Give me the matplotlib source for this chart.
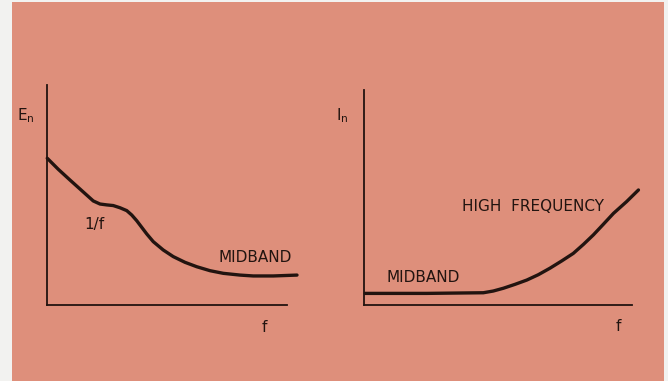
import matplotlib.pyplot as plt
from matplotlib.patches import Rectangle

# Noise curves (arbitrary units, 0-100 on both axes)
en_freq = [0.1, 4.5, 9.2, 13.9, 18.5, 21.2, 23.9, 26.5, 29.2, 31.9, 33.9, 35.9, 37.9,
           39.9, 42.5, 46.5, 50.5, 55.2, 59.9, 65.2, 70.5, 77.2, 82.5, 90.5, 100.0]
en_vals = [66.7, 61.7, 56.8, 52.0, 47.3, 45.9, 45.5, 45.2, 44.2, 42.9, 40.9, 38.3, 35.3,
           32.3, 28.8, 25.0, 22.0, 19.4, 17.4, 15.6, 14.4, 13.6, 13.2, 13.2, 13.6]

in_freq = [0.4, 22.8, 43.4, 47.0, 50.7, 54.9, 59.2, 63.4, 67.6, 71.9, 76.1, 79.8,
           83.4, 87.0, 90.7, 95.5, 99.8]
in_vals = [5.4, 5.4, 5.7, 6.5, 7.8, 9.6, 11.6, 14.1, 17.1, 20.5, 24.0, 28.2,
           32.6, 37.5, 42.6, 48.1, 53.5]

W, H = 668, 381
ink = '#221410'
salmon = '#DE8F7B'

fig = plt.figure(figsize=(W / 100, H / 100), dpi=100, facecolor='#f2f2f0')
# salmon card behind both sketches
card = Rectangle((12 / W, 0), 652 / W, 379 / H, transform=fig.transFigure,
                 facecolor=salmon, edgecolor='none', zorder=-10)
fig.add_artist(card)


def sketch_axes(rect, xend):
    ax = fig.add_axes(rect)
    ax.set_zorder(5)
    ax.patch.set_alpha(0)
    ax.set_xlim(0, 100)
    ax.set_ylim(0, 100)
    for s in ['top', 'right']:
        ax.spines[s].set_visible(False)
    for s in ['left', 'bottom']:
        ax.spines[s].set_color(ink)
        ax.spines[s].set_linewidth(1.3)
    ax.spines['bottom'].set_bounds(0, xend)
    ax.set_xticks([])
    ax.set_yticks([])
    return ax


txt = dict(color=ink, fontsize=11, family='DejaVu Sans')

# Left: voltage noise E_n
ax1 = sketch_axes([47 / W, 76 / H, 250 / W, 220 / H], 96)
ax1.plot(en_freq, en_vals, color=ink, linewidth=2.4, solid_capstyle='round', clip_on=False)
ax1.text(-12, 86, r'E$_\mathregular{n}$', ha='left', va='center', **txt)
ax1.text(18.8, 36.4, '1/f', ha='center', va='center', **txt)
ax1.text(68.4, 21.8, 'MIDBAND', ha='left', va='center', **txt)
ax1.text(86, -10, 'f', ha='left', va='center', **txt)

# Right: current noise I_n
ax2 = sketch_axes([364 / W, 76 / H, 275 / W, 215 / H], 97.5)
ax2.plot(in_freq, in_vals, color=ink, linewidth=2.4, solid_capstyle='round', clip_on=False)
ax2.text(-10, 88, r'I$_\mathregular{n}$', ha='left', va='center', **txt)
ax2.text(35.6, 46, 'HIGH  FREQUENCY', ha='left', va='center', **txt)
ax2.text(8, 12.6, 'MIDBAND', ha='left', va='center', **txt)
ax2.text(91.6, -10.2, 'f', ha='left', va='center', **txt)

plt.savefig('out.png', dpi=100, facecolor=fig.get_facecolor())
